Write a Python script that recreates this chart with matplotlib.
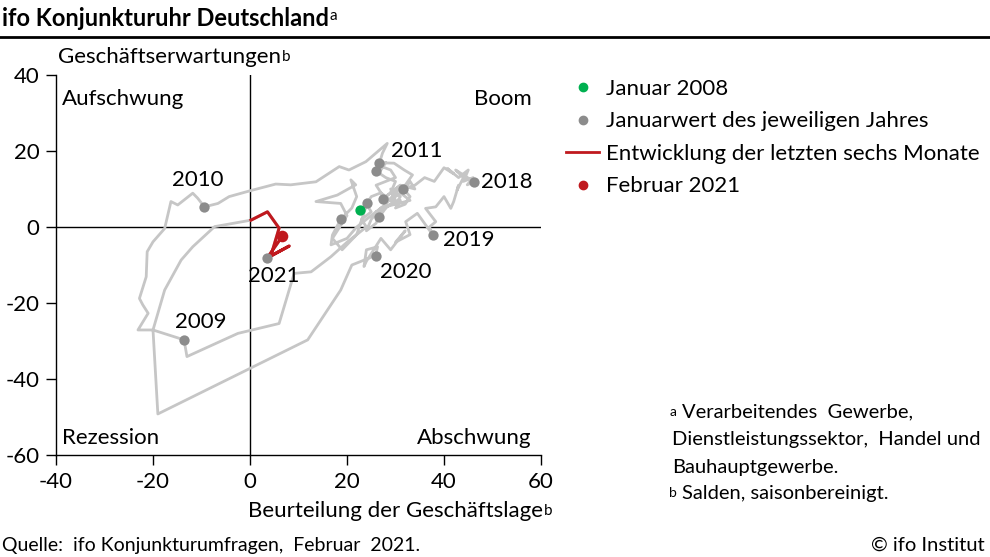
import matplotlib
matplotlib.use("Agg")
import matplotlib.pyplot as plt
from matplotlib.lines import Line2D

plt.rcParams['font.family'] = ['Lato', 'DejaVu Sans']
plt.rcParams['axes.unicode_minus'] = False

# monthly path of the ifo clock, Jan 2008 .. Feb 2021
lage = [22.6, 24, 25, 23, 24, 20, 16.7, 12.6, 9.1, 6.0, -2.5, -13.0,
        -13.6, -20.0, -23.1, -21.0, -22.1, -22.8, -21.4, -21.2, -20.0, -17.6, -16.3, -14.9, -11.8, -10.8,
        -9.4, -6.6, -4.3, 0.2, 5.3, 8.4, 13.6, 18.4, 20.4, 23.9, 28.3, 27.3,
        26.7, 29.7, 31.8, 33.5, 32, 30, 28, 25, 22, 20, 16.7, 17,
        18.7, 21, 22, 20.8, 21.8, 18.0, 13.6, 18.7, 20, 17, 19, 22,
        24.2, 25, 27, 26, 28, 30, 29, 27, 26, 28, 27,
        25.9, 28, 30, 29, 31, 28, 30, 27, 25, 24, 26, 27,
        26.7, 28, 30, 29, 31, 30, 33, 31, 29, 30, 28, 27,
        27.5, 28, 26, 29, 31, 30, 32, 33, 31, 34, 33, 32,
        31.6, 34, 36, 38, 40, 42, 40.7, 43, 45, 44, 46, 44.8,
        46.2, 42.4, 44, 42.7, 43, 42.0, 41.4, 40, 38.3, 36.2, 38.3, 37,
        37.7, 34.5, 32.1, 33, 30, 32, 29, 27, 24, 23.5, 24, 26.3,
        25.9, 21, 18.7, 11.9, -19.0, -20.0, -17.6, -14.2, -11.8, -7.3,
        0.2, 3.6, 6.0, 4.3, 8.1, 3.5, 6.7]
erwartung = [4.5, 6, 4, 2, 0, -4, -7.8, -11.8, -12.2, -25.4, -28.0, -34.1,
             -29.7, -27.1, -27.1, -22.7, -20.5, -18.8, -13.1, -6.5, -3.9, -0.4, 6.7, 5.8, 8.9, 7.6,
             5.3, 6.2, 8.0, 9.6, 11.3, 11.1, 11.9, 15.9, 15.0, 17.2, 22.0, 19.4,
             16.9, 16.8, 15.0, 13.7, 11, 9, 6, 3, 0, -3, -4.7, -2.1,
             2.0, 5, 8, 12.4, 11.1, 8.4, 6.7, 6.2, 3, -3, -6, -2,
             6.4, 8, 9, 11, 12, 13, 15, 16, 14, 17, 15,
             14.8, 13, 12, 9, 11, 8, 6, 5, 2, -1, 1, 4,
             2.7, 5, 7, 10, 8, 6, 7, 9, 7, 10, 8, 9,
             7.4, 5, 4, 6, 7, 5, 6, 8, 11, 10, 12, 10,
             10.0, 11, 13, 12, 15.6, 14, 15.4, 13, 15, 12, 13, 11.1,
             11.9, 15.0, 13, 9.7, 11, 6.7, 4.9, 8, 5.3, 4.9, 1.4, 0,
             -2.1, 3.6, 1.4, -2, -4, -1, -6, -3, -9, -10.4, -6, -5.2,
             -7.5, -10, -16.6, -29.7, -49.2, -27.1, -16.6, -8.7, -5.2, 0.1,
             1.8, 4.0, -0.3, -7.6, -5.0, -8.2, -2.4]

# January values
jan_lage = [-13.6, -9.4, 26.7, 18.7, 24.2, 25.9, 26.7, 27.5, 31.6, 46.2, 37.7, 25.9, 3.5]
jan_erw = [-29.7, 5.3, 16.9, 2.0, 6.4, 14.8, 2.7, 7.4, 10.0, 11.9, -2.1, -7.5, -8.2]

start_lage, start_erw = 22.6, 4.5
last_lage, last_erw = 6.7, -2.4
n_red = 7  # last six months -> 7 points

year_labels = ['2009', '2010', '2011', '2018', '2019', '2020', '2021']
year_x = [-10.1, -10.7, 34.4, 52.9, 45.1, 32.1, 4.9]
year_y = [-25.0, 12.4, 20.0, 11.8, -3.4, -11.8, -12.9]

grey_line = '#c6c6c6'
grey_dot = '#8c8c8c'
green = '#00b050'
red = '#c0191e'
fs = 16
fs_small = 14.5

fig = plt.figure(figsize=(9.9, 5.57), dpi=100)
ax = fig.add_axes([56/990, 1 - 455/557, (541 - 56)/990, (455 - 75)/557])

ax.plot(lage, erwartung, color=grey_line, lw=2, zorder=2)
ax.plot(lage[-n_red:], erwartung[-n_red:], color=red, lw=2.2, zorder=3)
ax.scatter(jan_lage, jan_erw, s=55, color=grey_dot, zorder=4, linewidths=0)
ax.scatter([start_lage], [start_erw], s=55, color=green, zorder=5, linewidths=0)
ax.scatter([last_lage], [last_erw], s=70, color=red, zorder=5, linewidths=0)

ax.axhline(0, color='black', lw=1, zorder=1)
ax.axvline(0, color='black', lw=1, zorder=1)

ax.set_xlim(-40, 60)
ax.set_ylim(-60, 40)
ax.set_xticks(range(-40, 61, 20))
ax.set_yticks(range(-60, 41, 20))
for s in ['top', 'right']:
    ax.spines[s].set_visible(False)
for s in ['left', 'bottom']:
    ax.spines[s].set_linewidth(1)
ax.tick_params(direction='out', length=7, width=1, labelsize=fs, pad=5)

for lab, x, y in zip(year_labels, year_x, year_y):
    ax.text(x, y, lab, fontsize=fs, ha='center', va='center', zorder=6)

ax.text(-38.8, 33.7, 'Aufschwung', fontsize=fs, va='center')
ax.text(58.0, 33.7, 'Boom', fontsize=fs, va='center', ha='right')
ax.text(-38.8, -55.5, 'Rezession', fontsize=fs, va='center')
ax.text(58.0, -55.5, 'Abschwung', fontsize=fs, va='center', ha='right')


def sup(txt, letter, size=11):
    ax.annotate(letter, xy=(1, 1), xycoords=txt, xytext=(0.5, -2),
                textcoords='offset points', ha='left', va='top', fontsize=size)


t = fig.text(58/990, 1 - 57/557, 'Geschäftserwartungen', fontsize=fs, va='center')
sup(t, 'b')
t = fig.text(543/990, 1 - 511/557, 'Beurteilung der Geschäftslage', fontsize=fs,
             va='center', ha='right')
sup(t, 'b')

t = fig.text(2/990, 1 - 18/557, 'ifo Konjunkturuhr Deutschland', fontsize=17,
             fontweight='bold', va='center')
sup(t, 'a', 11)
fig.add_artist(Line2D([0, 1], [1 - 37/557, 1 - 37/557], color='black', lw=2))

handles = [
    Line2D([], [], ls='none', marker='o', ms=6, color=green),
    Line2D([], [], ls='none', marker='o', ms=6, color=grey_dot),
    Line2D([], [], color=red, lw=2),
    Line2D([], [], ls='none', marker='o', ms=6, color=red),
]
labels = ['Januar 2008', 'Januarwert des jeweiligen Jahres',
          'Entwicklung der letzten sechs Monate', 'Februar 2021']
fig.legend(handles, labels, loc='upper left', bbox_to_anchor=(566/990, 1 - 79/557),
           frameon=False, fontsize=fs, handlelength=1.5, handletextpad=0.3,
           labelspacing=0.56, borderaxespad=0, borderpad=0)

t = fig.text(682/990, 1 - 412/557, 'Verarbeitendes  Gewerbe,', fontsize=fs_small, va='center')
ax.annotate('a', xy=(0, 1), xycoords=t, xytext=(-9, -2), textcoords='offset points',
            ha='left', va='top', fontsize=10)
fig.text(672/990, 1 - 440/557, 'Dienstleistungssektor,  Handel und', fontsize=fs_small, va='center')
fig.text(672/990, 1 - 467/557, 'Bauhauptgewerbe.', fontsize=fs_small, va='center')
t = fig.text(682/990, 1 - 493/557, 'Salden, saisonbereinigt.', fontsize=fs_small, va='center')
ax.annotate('b', xy=(0, 1), xycoords=t, xytext=(-9, -2), textcoords='offset points',
            ha='left', va='top', fontsize=10)

fig.text(2/990, 1 - 545/557, 'Quelle:  ifo Konjunkturumfragen,  Februar  2021.',
         fontsize=14, va='center')
fig.text(985/990, 1 - 545/557, '© ifo Institut', fontsize=fs_small, va='center', ha='right')

fig.savefig('out.png', dpi=100)
